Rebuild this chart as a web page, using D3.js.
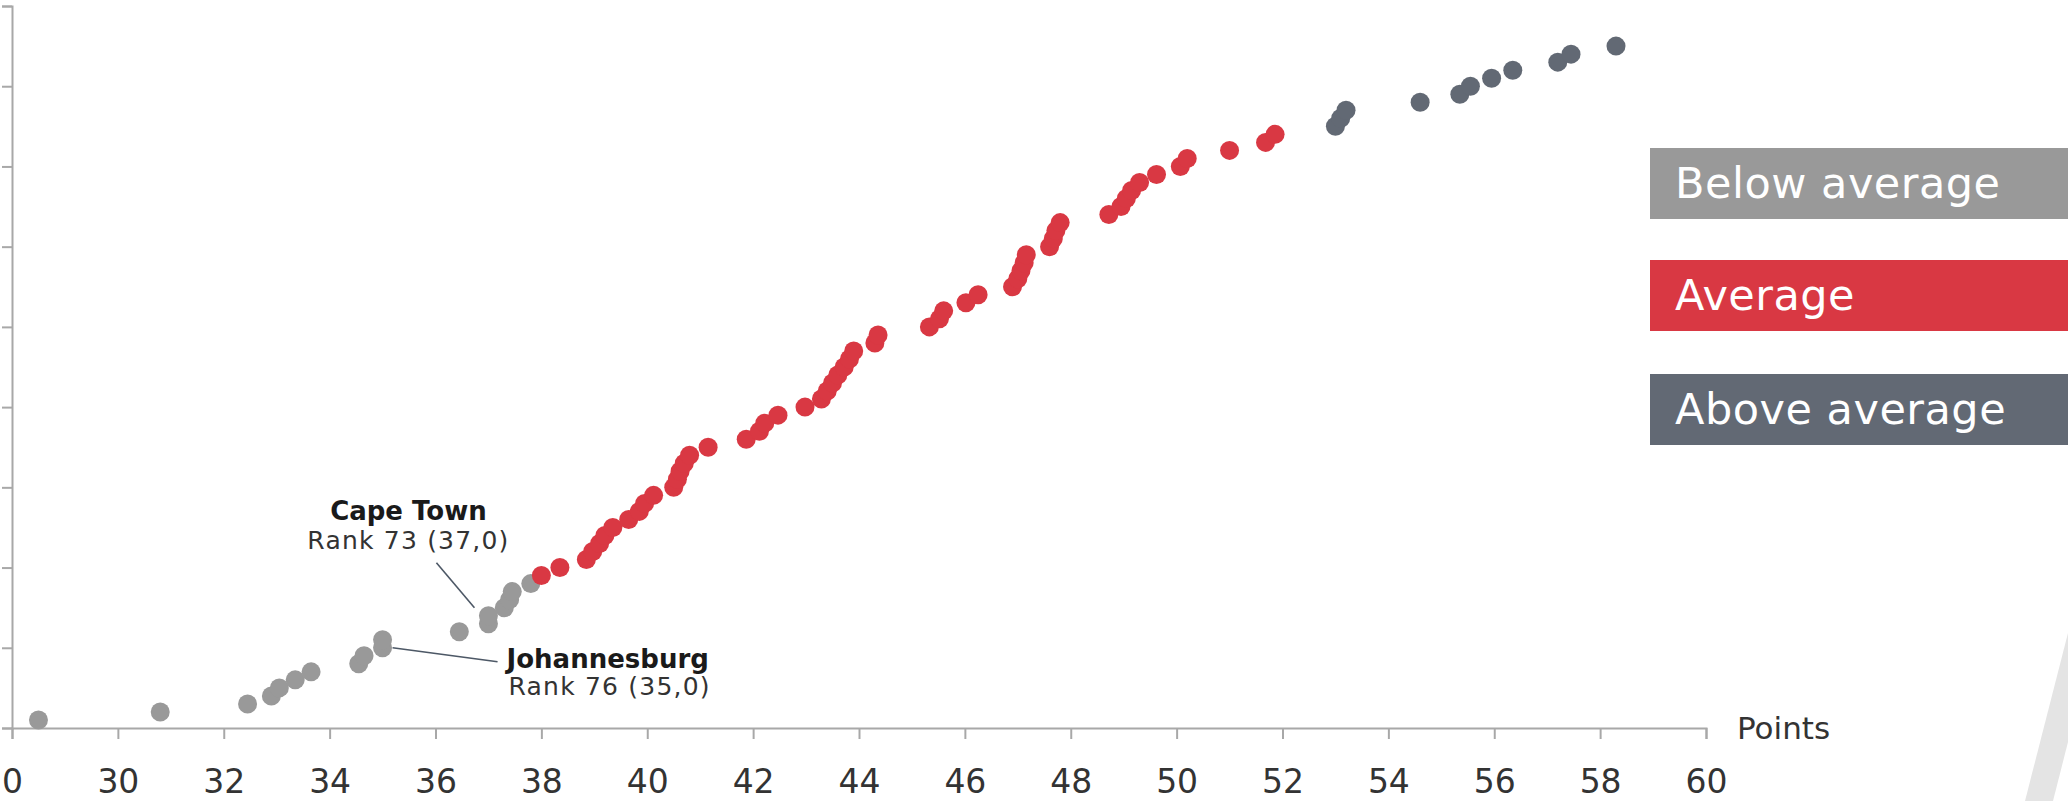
<!DOCTYPE html>
<html>
<head>
<meta charset="utf-8">
<script src="https://cdn.jsdelivr.net/npm/d3@7"></script>
<style>
  html, body { margin: 0; padding: 0; background: #ffffff; overflow: hidden; }
  svg { display: block; }
</style>
</head>
<body>
<svg id="chart" width="2068" height="801"></svg>
<script>
// ---- Data (points per city, sorted from lowest to highest score) ----
const belowAveragePoints = [28.5, 30.8, 32.45, 32.9, 33.05, 33.35, 33.65, 34.55, 34.65, 35.0, 35.0,
  36.45, 37.0, 37.0, 37.3, 37.4, 37.45, 37.8];
const averagePoints = [38.0, 38.35, 38.85, 38.97, 39.1, 39.2, 39.35, 39.65, 39.85, 39.95, 40.12,
  40.5, 40.57, 40.62, 40.7, 40.8, 41.15, 41.87, 42.12, 42.22, 42.47, 42.98, 43.29, 43.4, 43.5,
  43.6, 43.72, 43.82, 43.9, 44.3, 44.36, 45.33, 45.52, 45.6, 46.02, 46.25, 46.9, 47.0, 47.06,
  47.12, 47.16, 47.6, 47.67, 47.72, 47.8, 48.72, 48.95, 49.05, 49.15, 49.3, 49.62, 50.07, 50.2,
  51.0, 51.68, 51.86];
const aboveAveragePoints = [53.0, 53.1, 53.2, 54.6, 55.35, 55.55, 55.95, 56.35, 57.2, 57.45, 58.3];

const categories = ["Below average", "Average", "Above average"];
const categoryColors = ["#999999", "#d93843", "#626974"];

const xTickValues = [28, 30, 32, 34, 36, 38, 40, 42, 44, 46, 48, 50, 52, 54, 56, 58, 60];
const xTickLabels = ["0", "30", "32", "34", "36", "38", "40", "42", "44", "46", "48", "50", "52", "54", "56", "58", "60"];
const yTickValues = [0, 10, 20, 30, 40, 50, 60, 70, 80, 90];
const xAxisTitle = "Points";

const annotations = [
  { city: "Cape Town", rank: 73, points: 37.0 },
  { city: "Johannesburg", rank: 76, points: 35.0 }
];

// ---- Build records ----
const series = [belowAveragePoints, averagePoints, aboveAveragePoints];
const records = [];
series.forEach((arr, ci) => arr.forEach(p => records.push({ points: p, cat: ci })));
const N = records.length; // 85 cities
records.forEach((d, i) => { d.pos = i + 1; d.rank = N + 1 - d.pos; });

// ---- Layout ----
const svg = d3.select("#chart");
const x = d3.scaleLinear().domain([28, 60]).range([12, 1706]);
const y = d3.scaleLinear().domain([0, 90]).range([728, 6]);

const FONT = "'DejaVu Sans', 'Noto Sans', sans-serif";
const axisColor = "#a8a8a8";

// decorative stripe bottom right
svg.append("polygon")
  .attr("points", [[2068, 633], [2025, 801], [2053, 801], [2068, 742]].map(p => p.join(",")).join(" "))
  .attr("fill", "#e4e4e4");

// y axis
const yAxis = svg.append("g")
  .attr("transform", `translate(${x(28)},0)`)
  .call(d3.axisLeft(y).tickValues(yTickValues).tickSize(10).tickSizeOuter(10).tickFormat(""));
yAxis.selectAll("path, line").attr("stroke", axisColor).attr("stroke-width", 2);

// x axis
const xAxis = svg.append("g")
  .attr("transform", `translate(0,${y(0)})`)
  .call(d3.axisBottom(x).tickValues(xTickValues).tickSize(11).tickSizeOuter(11).tickPadding(31)
    .tickFormat((d, i) => xTickLabels[i]));
xAxis.selectAll("path, line").attr("stroke", axisColor).attr("stroke-width", 2);
xAxis.selectAll("text")
  .attr("font-family", FONT).attr("font-size", 33).attr("fill", "#333333");

svg.append("text")
  .attr("x", 1737).attr("y", 739)
  .attr("font-family", FONT).attr("font-size", 31).attr("fill", "#333333")
  .text(xAxisTitle);

// dots
svg.append("g").selectAll("circle")
  .data(records)
  .join("circle")
  .attr("cx", d => x(d.points))
  .attr("cy", d => y(d.pos))
  .attr("r", 9.5)
  .attr("fill", d => categoryColors[d.cat]);

// annotations
const fmt = v => d3.format(".1f")(v).replace(".", ",");
const leaderColor = "#4d5866";

// Cape Town
{
  const a = annotations[0];
  const rec = records.find(d => d.rank === a.rank);
  const cx = x(a.points), cy = y(rec.pos);
  svg.append("line")
    .attr("x1", cx - 52).attr("y1", cy - 61).attr("x2", cx - 14).attr("y2", cy - 16)
    .attr("stroke", leaderColor).attr("stroke-width", 1.6);
  svg.append("text")
    .attr("x", cx - 80).attr("y", cy - 104).attr("text-anchor", "middle")
    .attr("font-family", FONT).attr("font-size", 26).attr("font-weight", "bold").attr("fill", "#1a1a1a")
    .text(a.city);
  svg.append("text")
    .attr("x", cx - 80).attr("y", cy - 75).attr("text-anchor", "middle")
    .attr("font-family", FONT).attr("font-size", 25).attr("letter-spacing", 1.2).attr("fill", "#333333")
    .text(`Rank ${a.rank} (${fmt(a.points)})`);
}
// Johannesburg
{
  const a = annotations[1];
  const rec = records.find(d => d.rank === a.rank);
  const cx = x(a.points), cy = y(rec.pos);
  svg.append("line")
    .attr("x1", cx + 10).attr("y1", cy).attr("x2", cx + 115).attr("y2", cy + 14)
    .attr("stroke", leaderColor).attr("stroke-width", 1.6);
  svg.append("text")
    .attr("x", cx + 124).attr("y", cy + 20)
    .attr("font-family", FONT).attr("font-size", 26).attr("font-weight", "bold").attr("fill", "#1a1a1a")
    .text(a.city);
  svg.append("text")
    .attr("x", cx + 126).attr("y", cy + 47)
    .attr("font-family", FONT).attr("font-size", 25).attr("letter-spacing", 1.2).attr("fill", "#333333")
    .text(`Rank ${a.rank} (${fmt(a.points)})`);
}

// legend
const legendY = [148, 260, 374];
const legend = svg.append("g").selectAll("g")
  .data(categories)
  .join("g")
  .attr("transform", (d, i) => `translate(1650,${legendY[i]})`);
legend.append("rect")
  .attr("width", 430).attr("height", 71)
  .attr("fill", (d, i) => categoryColors[i]);
legend.append("text")
  .attr("x", 25).attr("y", 50)
  .attr("font-family", FONT).attr("font-size", 43).attr("letter-spacing", 0.5)
  .attr("fill", "#ffffff")
  .text(d => d);
</script>
</body>
</html>
